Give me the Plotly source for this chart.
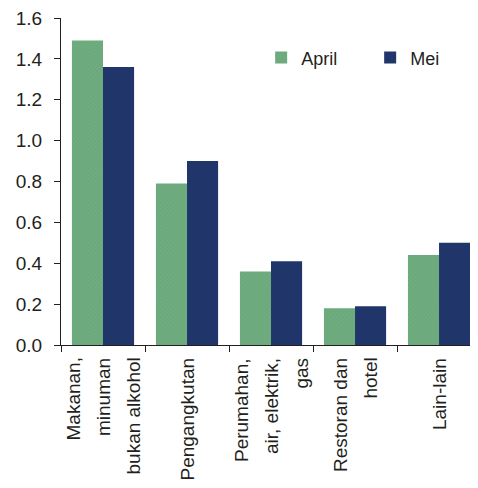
import plotly.graph_objects as go

categories = ["Makanan, minuman bukan alkohol", "Pengangkutan",
              "Perumahan, air, elektrik, gas", "Restoran dan hotel", "Lain-lain"]
label_lines = [["Makanan,", "minuman", "bukan alkohol"], ["Pengangkutan"],
               ["Perumahan,", "air, elektrik,", "gas"], ["Restoran dan", "hotel"], ["Lain-lain"]]
april = [1.49, 0.79, 0.36, 0.18, 0.44]
mei = [1.36, 0.90, 0.41, 0.19, 0.50]
y_ticks = [0.0, 0.2, 0.4, 0.6, 0.8, 1.0, 1.2, 1.4, 1.6]

FONT = "Liberation Sans, Arial, sans-serif"
TXT = "#231f20"

fig = go.Figure()
fig.add_trace(go.Bar(
    name="April", x=categories, y=april,
    marker=dict(color="#6aa77a", line=dict(width=0),
                pattern=dict(shape="x", size=3, solidity=0.25,
                             fgcolor="#5a9669", bgcolor="#6fac7f")),
))
fig.add_trace(go.Bar(
    name="Mei", x=categories, y=mei,
    marker=dict(color="#20366a", line=dict(width=0)),
))

annotations = []
for cat, lines in zip(categories, label_lines):
    n = len(lines)
    for i, ln in enumerate(lines):
        annotations.append(dict(
            x=cat, xref="x", y=0, yref="paper", yanchor="top", xanchor="center",
            yshift=-11, xshift=(i - (n - 1) / 2) * 30,
            text=ln, textangle=-90, showarrow=False,
            font=dict(family=FONT, size=19, color=TXT),
        ))

fig.update_layout(
    width=470, height=480,
    margin=dict(l=53, r=0, t=10, b=143, autoexpand=False),
    paper_bgcolor="white", plot_bgcolor="white",
    barmode="group", bargap=0.26, bargroupgap=0,
    font=dict(family=FONT, size=18, color=TXT),
    showlegend=True,
    legend=dict(orientation="h", x=0.48, y=0.878, xanchor="left", yanchor="middle",
                font=dict(family=FONT, size=18, color=TXT),
                bgcolor="rgba(0,0,0,0)", entrywidth=64, itemwidth=30),
    annotations=annotations,
)
fig.update_xaxes(
    range=[-0.5, 4.464], showticklabels=False, tickson="boundaries",
    ticks="outside", ticklen=6, tickcolor="#231f20",
    showline=True, linecolor="#231f20", linewidth=1, showgrid=False, zeroline=False,
)
fig.update_yaxes(
    range=[0, 1.6], tickvals=y_ticks, tickformat=".1f",
    ticks="outside", ticklen=6, tickcolor="#231f20",
    showline=True, linecolor="#231f20", linewidth=1, showgrid=False, zeroline=False,
    ticklabelstandoff=8, ticklabeloverflow="allow",
    tickfont=dict(family=FONT, size=19, color=TXT),
)

fig.write_html("out.html")
